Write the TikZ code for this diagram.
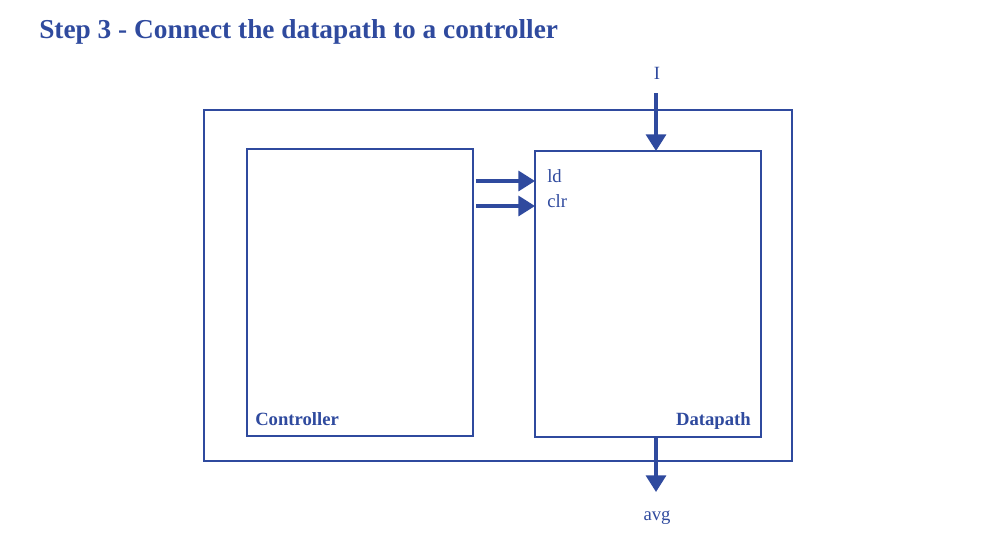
\documentclass[tikz,border=0pt]{standalone}
\usepackage{fontspec}
\setmainfont{Liberation Serif}
\usetikzlibrary{arrows.meta}
\definecolor{dblue}{RGB}{47,74,158}
\begin{document}
\begin{tikzpicture}[x=0.75pt,y=-0.75pt,
  box/.style={draw=dblue,line width=1.8pt,inner sep=0pt,outer sep=0pt},
  sig/.style={draw=dblue,line width=2.6pt,-{Triangle[width=15pt,length=12.5pt]}},
  lbl/.style={text=dblue,font=\fontsize{14}{16}\selectfont,inner sep=0pt},
  blbl/.style={text=dblue,font=\fontsize{14}{16}\selectfont\bfseries,inner sep=0pt}]
\useasboundingbox (0,0) rectangle (991,547);
\node[anchor=base west,text=dblue,font=\fontsize{20.5}{24}\selectfont\bfseries,inner sep=0pt] (title) at (39,38) {Step 3 - Connect the datapath to a controller};
\node[box,minimum width=441pt,minimum height=263.25pt] (outer) at (498,285.5) {};
\node[box,minimum width=169.5pt,minimum height=215.25pt] (ctrl) at (360,292.5) {};
\node[box,minimum width=169.5pt,minimum height=214.5pt] (dp) at (648,294) {};
\node[blbl,anchor=base west] (ctrltxt) at (255,425) {Controller};
\node[blbl,anchor=base east] (dptxt) at (751,425) {Datapath};
\node[lbl,anchor=base west] (ld) at (547,182) {ld};
\node[lbl,anchor=base west] (clr) at (547,207) {clr};
\node[lbl] (I) at (657,73) {I};
\node[lbl,anchor=base] (avg) at (657,520) {avg};
\coordinate (Iin) at (656,93);
\coordinate (avgout) at (656,492);
\coordinate (ldsrc) at (476,181);
\coordinate (clrsrc) at (476,206);
\draw[sig] (Iin) -- (Iin |- dp.north);
\draw[sig] (dp.south -| avgout) -- (avgout);
\draw[sig] (ldsrc) -- (ldsrc -| dp.west);
\draw[sig] (clrsrc) -- (clrsrc -| dp.west);
\end{tikzpicture}
\end{document}
